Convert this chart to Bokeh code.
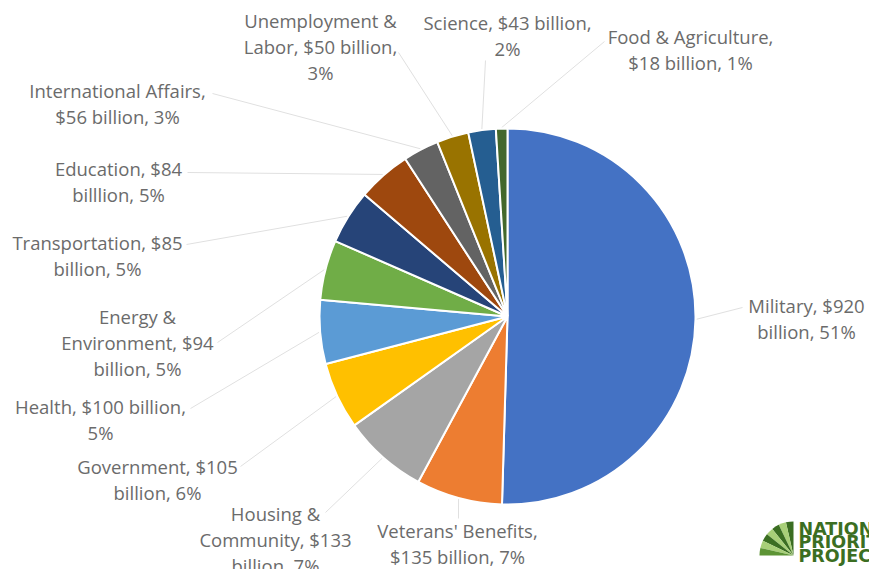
import math
from bokeh.plotting import figure
from bokeh.models import Range1d
from bokeh.core.properties import value
from bokeh.embed import file_html
from bokeh.resources import INLINE

# ---- data ----
categories = ["Military", "Veterans' Benefits", "Housing & Community", "Government",
              "Health", "Energy & Environment", "Transportation", "Education",
              "International Affairs", "Unemployment & Labor", "Science",
              "Food & Agriculture"]
billions = [920, 135, 133, 105, 100, 94, 85, 84, 56, 50, 43, 18]
label_lines = [
    ["Military, $920", "billion, 51%"],
    ["Veterans' Benefits,", "$135 billion, 7%"],
    ["Housing &", "Community, $133", "billion, 7%"],
    ["Government, $105", "billion, 6%"],
    ["Health, $100 billion,", "5%"],
    ["Energy &", "Environment, $94", "billion, 5%"],
    ["Transportation, $85", "billion, 5%"],
    ["Education, $84", "billlion, 5%"],
    ["International Affairs,", "$56 billion, 3%"],
    ["Unemployment &", "Labor, $50 billion,", "3%"],
    ["Science, $43 billion,", "2%"],
    ["Food & Agriculture,", "$18 billion, 1%"],
]
logo_lines = ["NATIONAL", "PRIORITIES", "PROJECT"]

# ---- style / layout ----
colors = ["#4472C4", "#ED7D31", "#A5A5A5", "#FFC000", "#5B9BD5", "#70AD47",
          "#264478", "#9E480E", "#636363", "#997300", "#255E91", "#43682B"]
# label placement (page pixel coords): center x, first line y
label_pos = [(806, 305), (457, 530), (275, 513), (157, 466), (100, 406), (137, 316),
             (97, 242), (118, 168), (117, 90), (320, 20), (507, 22), (690, 36)]
leader_end = [(742, 307), (458, 518), (325, 512), (240, 466), (190, 408), (217, 342),
              (186, 244), (187, 172), (212, 93), (398, 52), (485, 60), (604, 41)]
LINE_H = 26
W, H = 869, 569
CX, CY, R = 507, 316, 188

def Y(y):
    return H - y

p = figure(width=W, height=H, x_range=Range1d(0, W), y_range=Range1d(0, H),
           output_backend="svg", toolbar_location=None, min_border=0)
p.axis.visible = False
p.grid.visible = False
p.outline_line_color = None
p.background_fill_color = "white"

total = sum(billions)
cum = 0.0
starts, ends, mids = [], [], []
for v in billions:
    a0 = cum / total
    cum += v
    a1 = cum / total
    starts.append(math.pi / 2 - 2 * math.pi * a0)
    ends.append(math.pi / 2 - 2 * math.pi * a1)
    mids.append(math.pi / 2 - 2 * math.pi * (a0 + a1) / 2)

# leader lines
for i, m in enumerate(mids):
    x0 = CX + (R + 1) * math.cos(m)
    y0 = Y(CY) + (R + 1) * math.sin(m)
    ex, ey = leader_end[i]
    p.line([x0, ex], [y0, Y(ey)], line_color="#e0e0e0", line_width=1)

p.wedge(x=[CX] * len(billions), y=[Y(CY)] * len(billions), radius=R,
        start_angle=starts, end_angle=ends, direction="clock",
        fill_color=colors, line_color="white", line_width=2)

# labels
xs, ys, ts = [], [], []
for (lx, ly), lines in zip(label_pos, label_lines):
    for k, t in enumerate(lines):
        xs.append(lx)
        ys.append(Y(ly + k * LINE_H))
        ts.append(t)
p.text(x=xs, y=ys, text=ts, text_align="center", text_baseline="middle",
       text_font=value("Open Sans"), text_font_size="18.5px", text_color="#6b6b6b")

# logo (partly cut at the right edge, as in the original)
lc = (793, Y(555))
ray_cols = ["#3b6e22", "#a8cf78", "#3b6e22", "#a8cf78", "#3b6e22", "#a8cf78", "#5d9435"]
n = len(ray_cols)
p.wedge(x=[lc[0]] * n, y=[lc[1]] * n, radius=34,
        start_angle=[math.pi / 2 + i * (math.pi / 2) / n for i in range(n)],
        end_angle=[math.pi / 2 + (i + 1) * (math.pi / 2) / n for i in range(n)],
        fill_color=ray_cols, line_color=None)
p.text(x=[798] * 3, y=[Y(528), Y(541.5), Y(555)], text=logo_lines,
       text_align="left", text_baseline="middle", text_font=value("DejaVu Sans"),
       text_font_style="bold", text_font_size="17.5px", text_color="#3b6e22")

open("out.html", "w").write(file_html(p, INLINE))
